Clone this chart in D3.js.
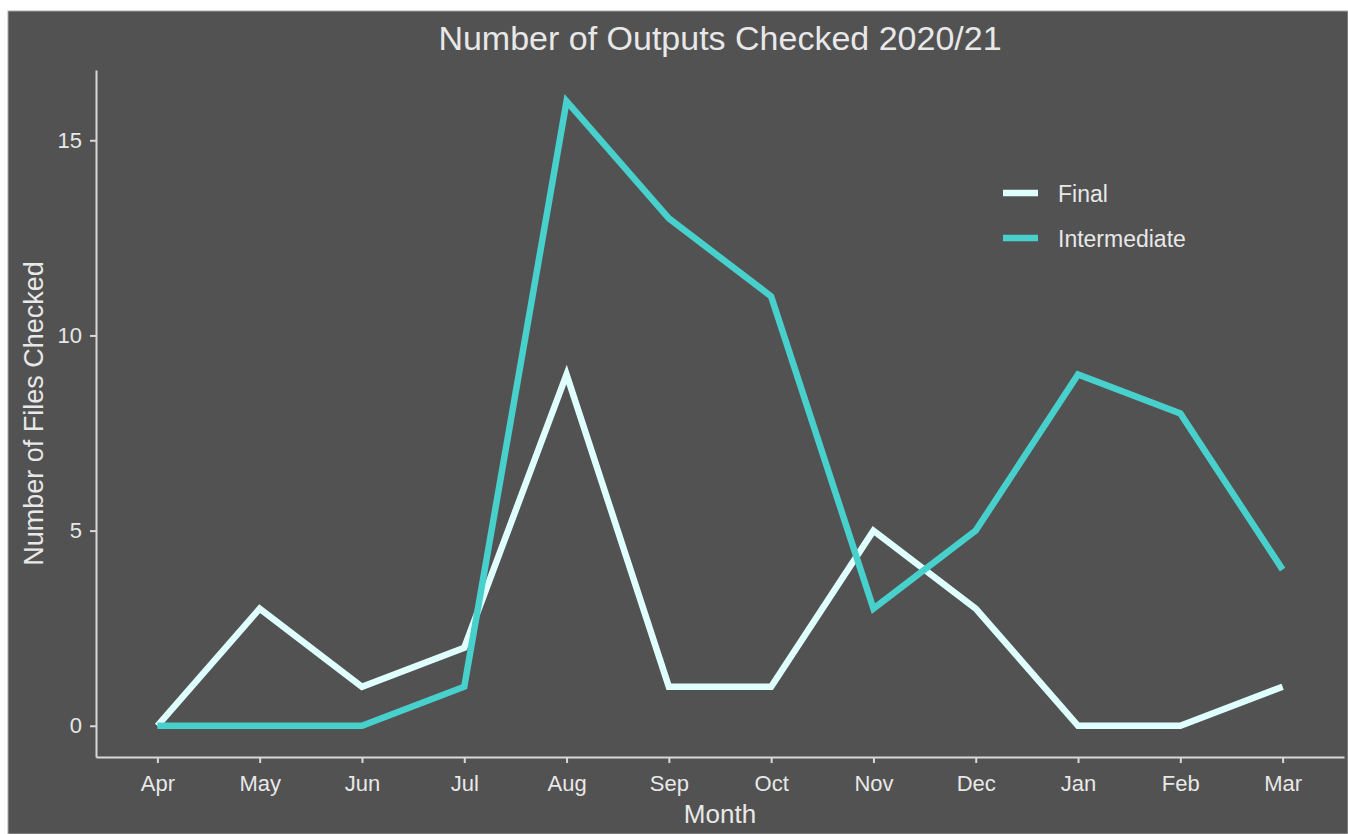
<!DOCTYPE html>
<html lang="en">
<head>
<meta charset="UTF-8">
<title>Number of Outputs Checked 2020/21</title>
<script src="https://cdn.jsdelivr.net/npm/d3@7.8.5/dist/d3.min.js"></script>
<style>
    body{
        margin:0;
        background:#ffffff;
        font-family:"Liberation Sans", Arial, sans-serif;
    }
    svg{ display:block; }
</style>
</head>
<body>
<div id="chart"></div>
<script>
    // data
    const months = ["Apr","May","Jun","Jul","Aug","Sep","Oct","Nov","Dec","Jan","Feb","Mar"];
    const finalValues = [0, 3, 1, 2, 9, 1, 1, 5, 3, 0, 0, 1];
    const intermediateValues = [0, 0, 0, 1, 16, 13, 11, 3, 5, 9, 8, 4];
    const yTicks = [0, 5, 10, 15];

    const series = [
        {name:"Final", values:finalValues, color:"#e0ffff"},
        {name:"Intermediate", values:intermediateValues, color:"#48d1cc"}
    ];

    const W = 1348, H = 834;
    const margin = {top:70, right:4, bottom:77, left:96};
    const width = W - margin.left - margin.right;
    const height = H - margin.top - margin.bottom;

    const svg = d3.select("#chart").append("svg")
        .attr("width", W)
        .attr("height", H);

    // panel background
    svg.append("rect")
        .attr("x", 8).attr("y", 11)
        .attr("width", W - 8).attr("height", H - 11)
        .attr("fill", "#525252")
        .attr("stroke", "#a8a8a8")
        .attr("stroke-width", 1);

    const g = svg.append("g")
        .attr("transform", `translate(${margin.left},${margin.top})`);

    // ggplot style discrete scale: 0.6 units of padding each side
    const x = d3.scalePoint()
        .domain(months)
        .range([0, width])
        .padding(0.6);

    const y = d3.scaleLinear()
        .domain([-0.8, 16.8])
        .range([height, 0]);

    const axisColor = "#d9d9d9";
    const textColor = "#e8e8e8";

    // x axis
    const xAxis = g.append("g")
        .attr("transform", `translate(0,${height})`)
        .call(d3.axisBottom(x).tickSize(6).tickPadding(12).tickSizeOuter(0));
    xAxis.select(".domain").attr("stroke", axisColor).attr("stroke-width", 2);
    xAxis.selectAll(".tick line").attr("stroke", axisColor).attr("stroke-width", 2);
    xAxis.selectAll(".tick text")
        .attr("fill", textColor)
        .style("font-size", "22px")
        .style("font-family", "Liberation Sans, Arial, sans-serif");

    // y axis
    const yAxis = g.append("g")
        .call(d3.axisLeft(y).tickValues(yTicks).tickSize(6).tickPadding(8).tickSizeOuter(0));
    yAxis.select(".domain").attr("stroke", axisColor).attr("stroke-width", 2);
    yAxis.selectAll(".tick line").attr("stroke", axisColor).attr("stroke-width", 2);
    yAxis.selectAll(".tick text")
        .attr("fill", textColor)
        .style("font-size", "22px")
        .style("font-family", "Liberation Sans, Arial, sans-serif");

    // lines
    const line = d3.line()
        .x((d, i) => x(months[i]))
        .y(d => y(d));

    series.forEach(s => {
        g.append("path")
            .datum(s.values)
            .attr("fill", "none")
            .attr("stroke", s.color)
            .attr("stroke-width", 6.5)
            .attr("stroke-linejoin", "miter")
            .attr("d", line);
    });

    // legend
    const legend = g.append("g")
        .attr("transform", `translate(${1003 - margin.left},${193 - margin.top})`);
    series.forEach((s, i) => {
        const row = legend.append("g").attr("transform", `translate(0,${i * 45})`);
        row.append("line")
            .attr("x1", 0).attr("x2", 35)
            .attr("y1", 0).attr("y2", 0)
            .attr("stroke", s.color)
            .attr("stroke-width", 6.5);
        row.append("text")
            .attr("x", 55)
            .attr("y", 9)
            .attr("fill", textColor)
            .style("font-size", "23px")
            .text(s.name);
    });

    // title
    svg.append("text")
        .attr("x", margin.left + width / 2)
        .attr("y", 50)
        .attr("text-anchor", "middle")
        .attr("fill", textColor)
        .style("font-size", "34px")
        .text("Number of Outputs Checked 2020/21");

    // axis titles
    svg.append("text")
        .attr("x", margin.left + width / 2)
        .attr("y", 823)
        .attr("text-anchor", "middle")
        .attr("fill", textColor)
        .style("font-size", "26px")
        .text("Month");

    svg.append("text")
        .attr("transform", `translate(43,${margin.top + height / 2}) rotate(-90)`)
        .attr("text-anchor", "middle")
        .attr("fill", textColor)
        .style("font-size", "27px")
        .text("Number of Files Checked");
</script>
</body>
</html>
